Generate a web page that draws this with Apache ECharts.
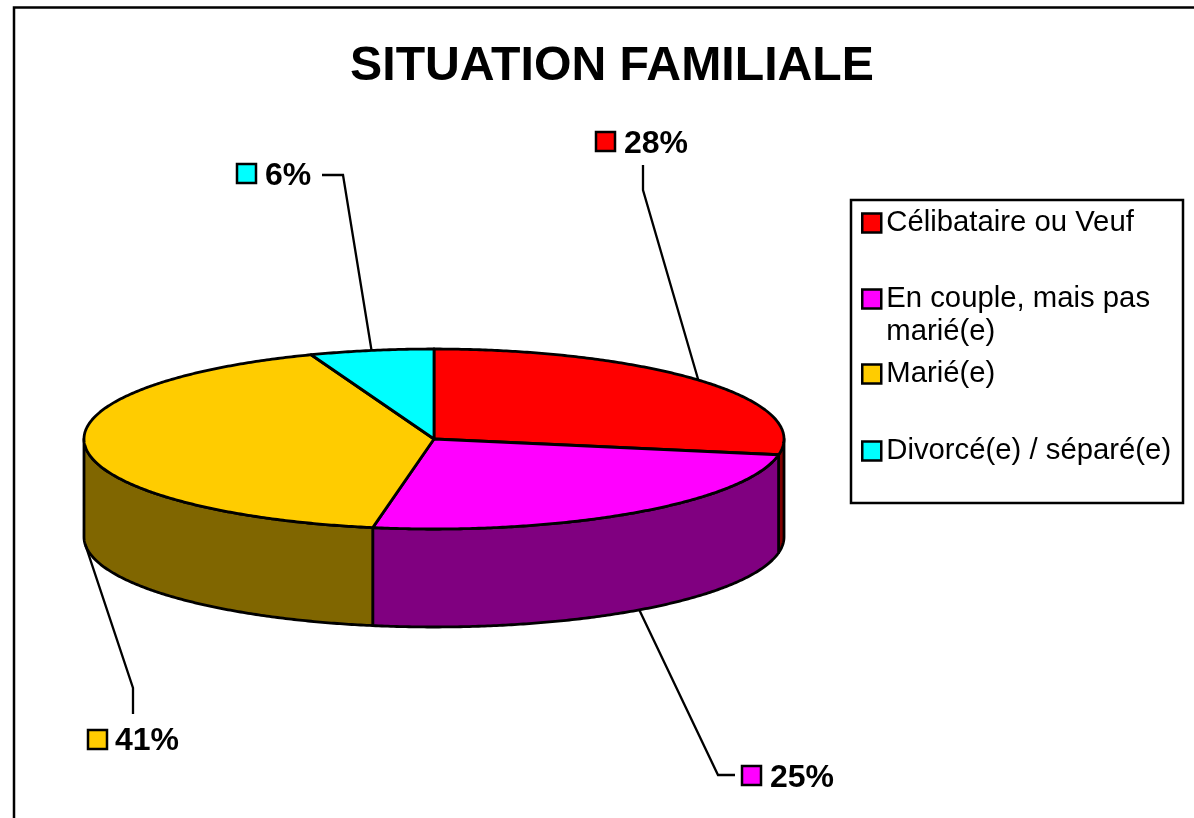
<!DOCTYPE html>
<html><head><meta charset="utf-8">
<style>html,body{margin:0;padding:0;background:#fff}#c{width:1194px;height:818px}</style>
<script src="https://cdn.jsdelivr.net/npm/echarts@6/dist/echarts.min.js"></script>
</head><body><div id="c"></div>
<script>
// Data
var chartTitle = 'SITUATION FAMILIALE';
var categories = ['Célibataire ou Veuf', 'En couple, mais pas\nmarié(e)', 'Marié(e)', 'Divorcé(e) / séparé(e)'];
var values = [27.8, 25, 41.49, 5.71];
// Styles
var topColors = ['#FF0000', '#FF00FF', '#FFCC00', '#00FFFF'];
var sideColors = ['#800000', '#800080', '#806600', '#008080'];
// Layout
var cx = 434, cy = 439, rx = 350, ry = 90, depth = 98;
var labelLayout = [
  {box: [596, 132], text: [624, 144], elbow: [[643, 190], [643, 165]], lift: 0, shift: -1},
  {box: [742, 766], text: [770, 778], elbow: [[718, 775], [735, 775]], lift: 1, shift: -1},
  {box: [88, 730], text: [115, 741], elbow: [[133, 688], [133, 714]], lift: 1, shift: 0},
  {box: [237, 164], text: [265, 176], elbow: [[343, 175], [322, 175]], lift: 0, shift: 0}
];
var legendIconCentres = [223, 299, 374, 451];
var legendLine = 33;

var total = values.reduce(function (a, b) { return a + b; }, 0);
function pt(deg, dy) {
  var r = deg * Math.PI / 180;
  return [cx + rx * Math.sin(r), cy - ry * Math.cos(r) + (dy || 0)];
}
function arc(a0, a1, dy) {
  var pts = [], n = Math.max(2, Math.ceil(Math.abs(a1 - a0) * 2));
  for (var i = 0; i <= n; i++) pts.push(pt(a0 + (a1 - a0) * i / n, dy));
  return pts;
}
var startAngles = [], acc = 0;
values.forEach(function (v) { startAngles.push(acc / total * 360); acc += v; });

function renderSlice(idx) {
  return function (params, api) {
    var v = api.value(0);
    var a0 = startAngles[idx], a1 = a0 + v / total * 360, children = [];
    var edge = {stroke: '#000', lineWidth: 2.8, lineJoin: 'round'};
    // front wall: the part of the arc in 90..270 degrees
    var s0 = Math.max(a0, 90), s1 = Math.min(a1, 270);
    if (s1 > s0) {
      children.push({type: 'polygon', shape: {points: arc(s0, s1, 0).concat(arc(s1, s0, depth))},
        style: Object.assign({fill: sideColors[idx]}, edge)});
    }
    // top face
    children.push({type: 'polygon', shape: {points: [[cx, cy]].concat(arc(a0, a1, 0))},
      style: Object.assign({fill: topColors[idx]}, edge)});
    // leader line
    var L = labelLayout[idx], mid = (a0 + a1) / 2 + L.shift;
    children.push({type: 'polyline', shape: {points: [pt(mid, L.lift ? depth : 0)].concat(L.elbow)},
      style: {fill: 'none', stroke: '#000', lineWidth: 2.3}});
    // label key and text
    children.push({type: 'rect', shape: {x: L.box[0], y: L.box[1], width: 19, height: 19},
      style: {fill: topColors[idx], stroke: '#000', lineWidth: 2.5}});
    children.push({type: 'text', style: {text: Math.round(v / total * 100) + '%', x: L.text[0], y: L.text[1],
      font: 'bold 32px "Liberation Sans", Arial, sans-serif', fill: '#000', verticalAlign: 'middle', align: 'left'}});
    return {type: 'group', children: children};
  };
}

var chart = echarts.init(document.getElementById('c'));
chart.setOption({
  animation: false,
  backgroundColor: '#fff',
  title: {text: chartTitle, left: 607, top: 38, textAlign: 'center',
    textStyle: {fontFamily: '"Liberation Sans", Arial, sans-serif', fontWeight: 'bold', fontSize: 48.2, color: '#000'}},
  legend: categories.map(function (name, i) {
    var two = name.indexOf('\n') >= 0;
    return {
      left: 861, top: legendIconCentres[i] - legendLine * (two ? 1.5 : 0.5), orient: 'vertical', selectedMode: false,
      itemWidth: 19, itemHeight: 19, icon: 'rect', padding: 0, itemGap: 0,
      itemStyle: {borderColor: '#000', borderWidth: 2.5},
      // a blank first line centres the first text line on the colour key
      formatter: function (n) { return two ? ' \n' + n : n; },
      textStyle: {fontFamily: '"Liberation Sans", Arial, sans-serif', fontSize: 29.3, color: '#000', lineHeight: legendLine},
      data: [name]
    };
  }),
  graphic: [
    {type: 'rect', silent: true, z: -1, shape: {x: 14, y: 7.5, width: 1300, height: 900},
      style: {fill: 'none', stroke: '#000', lineWidth: 2.5}},
    {type: 'rect', silent: true, z: -1, shape: {x: 851, y: 200, width: 332, height: 303},
      style: {fill: '#fff', stroke: '#000', lineWidth: 2.5}}
  ],
  series: categories.map(function (name, i) {
    return {type: 'custom', name: name, coordinateSystem: 'none', silent: true,
      itemStyle: {color: topColors[i]}, data: [[values[i]]], renderItem: renderSlice(i)};
  })
});
</script></body></html>
